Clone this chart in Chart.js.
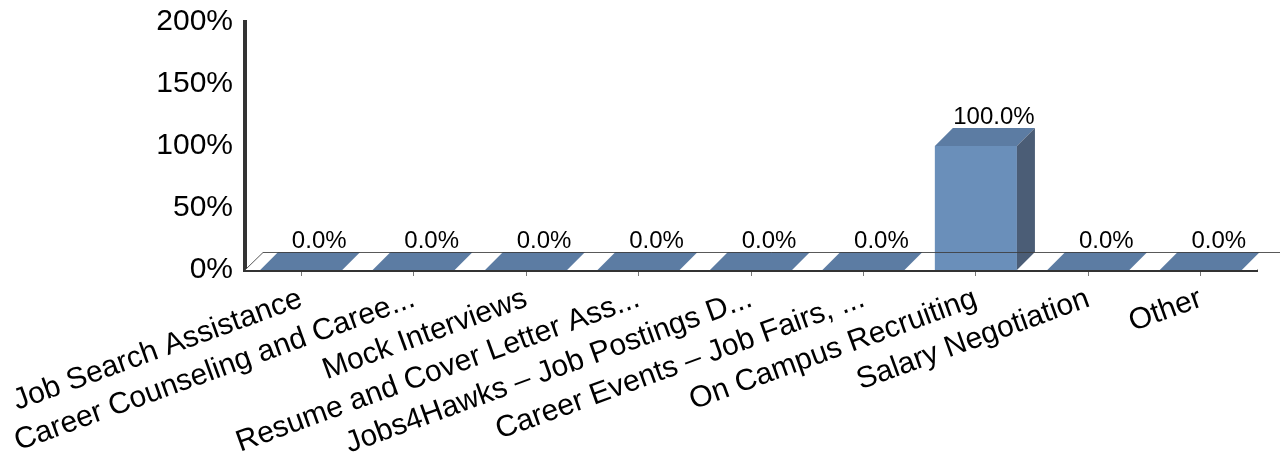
<!DOCTYPE html>
<html>
<head>
<meta charset="utf-8">
<script src="https://cdn.jsdelivr.net/npm/chart.js@4"></script>
<style>
  body { margin: 0; background: #fff; }
</style>
</head>
<body>
<canvas id="chart" width="1280" height="456"></canvas>
<script>
const categories = [
  "Job Search Assistance",
  "Career Counseling and Caree...",
  "Mock Interviews",
  "Resume and Cover Letter Ass...",
  "Jobs4Hawks – Job Postings D...",
  "Career Events – Job Fairs, ...",
  "On Campus Recruiting",
  "Salary Negotiation",
  "Other"
];
const percentValues = [0, 0, 0, 0, 0, 0, 100, 0, 0];
const yMin = 0;
const yMax = 200;
const yStep = 50;

// 3d look
const depthX = 18;
const depthY = 18;
const frontColor = "#6a8fba";
const topColor = "#5c7ca3";
const sideColor = "#4b5d76";
const fontName = "'Liberation Sans', Arial, sans-serif";

const bar3d = {
  id: "bar3d",
  beforeDatasetsDraw(chart) {
    const { ctx, chartArea } = chart;
    const y0 = chart.scales.y.getPixelForValue(0);
    ctx.save();
    ctx.fillStyle = "#fff";
    ctx.beginPath();
    ctx.moveTo(chartArea.left, y0);
    ctx.lineTo(chartArea.right, y0);
    ctx.lineTo(chart.width, y0 - depthY);
    ctx.lineTo(chartArea.left + depthX, y0 - depthY);
    ctx.closePath();
    ctx.fill();
    ctx.restore();
  },
  afterDatasetsDraw(chart) {
    const { ctx, chartArea } = chart;
    const y0 = chart.scales.y.getPixelForValue(0);
    const meta = chart.getDatasetMeta(0);

    meta.data.forEach((bar, i) => {
      const { x, y, base, width } = bar.getProps(["x", "y", "base", "width"], true);
      const l = x - width / 2;
      const r = x + width / 2;

      ctx.save();
      // top
      ctx.fillStyle = topColor;
      ctx.beginPath();
      ctx.moveTo(l, y);
      ctx.lineTo(r, y);
      ctx.lineTo(r + depthX, y - depthY);
      ctx.lineTo(l + depthX, y - depthY);
      ctx.closePath();
      ctx.fill();

      // side
      if (base - y > 0.5) {
        ctx.fillStyle = sideColor;
        ctx.beginPath();
        ctx.moveTo(r, y);
        ctx.lineTo(r + depthX, y - depthY);
        ctx.lineTo(r + depthX, base - depthY);
        ctx.lineTo(r, base);
        ctx.closePath();
        ctx.fill();
      }

      // value label
      ctx.fillStyle = "#000";
      ctx.font = "24px " + fontName;
      ctx.textAlign = "center";
      ctx.textBaseline = "alphabetic";
      ctx.fillText(percentValues[i].toFixed(1) + "%", x + depthX, y - depthY - 4);
      ctx.restore();
    });

    // floor outline
    ctx.save();
    ctx.strokeStyle = "rgba(60,60,60,0.85)";
    ctx.lineWidth = 1;
    ctx.beginPath();
    ctx.moveTo(chartArea.left, y0);
    ctx.lineTo(chartArea.left + depthX, y0 - depthY + 0.5);
    ctx.lineTo(chart.width, y0 - depthY + 0.5);
    ctx.stroke();
    ctx.restore();
  }
};

new Chart(document.getElementById("chart"), {
  type: "bar",
  data: {
    labels: categories,
    datasets: [{
      data: percentValues,
      backgroundColor: frontColor,
      borderWidth: 0,
      barPercentage: 0.73,
      categoryPercentage: 1
    }]
  },
  options: {
    responsive: false,
    animation: false,
    devicePixelRatio: 1,
    layout: { padding: { top: 22, right: 23, left: 0, bottom: 0 } },
    plugins: {
      legend: { display: false },
      tooltip: { enabled: false }
    },
    scales: {
      x: {
        grid: {
          display: true,
          drawOnChartArea: false,
          drawTicks: true,
          tickLength: 6,
          offset: false,
          color: "#777"
        },
        border: { display: true, color: "#333", width: 4 },
        ticks: {
          color: "#000",
          font: { family: fontName, size: 30 },
          minRotation: 20,
          maxRotation: 20,
          autoSkip: false,
          padding: 5
        },
        afterFit(scale) {
          scale.height = 186;
          scale.paddingLeft = 0;
          scale.paddingRight = 0;
        }
      },
      y: {
        min: yMin,
        max: yMax,
        grid: { display: false, drawTicks: false },
        border: { display: true, color: "#333", width: 4 },
        ticks: {
          stepSize: yStep,
          color: "#000",
          font: { family: fontName, size: 30 },
          padding: 12,
          callback: v => v + "%"
        },
        afterFit(scale) {
          scale.width = 245;
          scale.paddingTop = 0;
          scale.paddingBottom = 0;
        }
      }
    }
  },
  plugins: [bar3d]
});
</script>
</body>
</html>
